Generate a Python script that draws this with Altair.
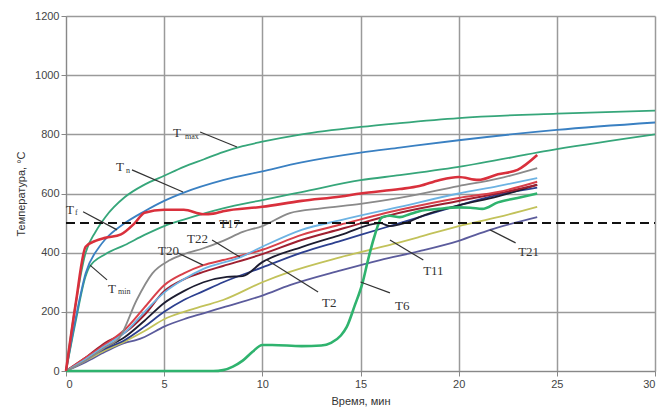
import altair as alt
import pandas as pd

# ---- data ----
t_max = [0, 0.5, 1, 1.5, 2, 3, 4, 5, 6, 7, 8, 9, 10, 12, 15, 17, 20, 25, 30]
v_max = [0, 230, 400, 470, 520, 588, 630, 660, 690, 715, 740, 760, 775, 800, 825, 838, 855, 870, 880]

t_n = [0, 0.5, 1, 1.7, 2, 3, 4, 5, 6, 8, 10, 12, 15, 17, 20, 25, 30]
v_n = [0, 180, 330, 420, 445, 500, 540, 575, 603, 645, 675, 705, 738, 755, 780, 815, 840]

t_min = [0, 0.5, 1, 1.2, 2, 3, 4, 5, 6, 8, 10, 12, 15, 17, 20, 25, 30]
v_min = [0, 170, 320, 352, 395, 426, 460, 490, 512, 550, 578, 605, 645, 662, 690, 750, 800]

t_f = [0, 0.5, 1, 1.5, 2, 2.8, 3.5, 4, 5, 6, 7, 7.5, 8, 10, 12, 14, 15, 17, 18, 19, 20, 21, 22, 23, 24]
v_f = [0, 230, 420, 440, 450, 462, 500, 535, 545, 545, 530, 532, 540, 555, 575, 590, 600, 615, 625, 645, 656, 646, 665, 680, 730]

t_gray = [0, 1, 2, 2.75, 3.6, 4.4, 5.3, 6, 7, 8, 9, 10, 11.4, 13, 15, 17, 20, 22, 24]
v_gray = [0, 35, 80, 115, 240, 330, 375, 395, 415, 440, 470, 490, 534, 550, 565, 585, 625, 650, 686]

t_22 = [0, 1, 2, 3, 4, 5, 6, 7, 8.9, 10, 12, 14, 17, 20, 22, 24]
v_22 = [0, 40, 85, 130, 200, 265, 310, 345, 385, 420, 477, 510, 555, 600, 625, 652]

t_20 = [0, 1, 2, 3, 4, 5, 6, 7, 8, 10, 12, 14, 17, 20, 22, 24]
v_20 = [0, 45, 90, 140, 215, 290, 330, 358, 375, 410, 460, 495, 545, 585, 605, 640]

t_dred = [0, 1, 2, 3, 4, 5, 6, 7, 8, 10, 12, 14, 17, 20, 22, 24]
v_dred = [0, 45, 95, 130, 190, 270, 310, 335, 355, 395, 443, 480, 535, 575, 600, 629]

t_2 = [0, 1, 2, 3, 4, 5, 6, 7, 8.2, 9, 10, 12, 14, 16, 16.5, 17, 17.5, 18, 20, 22, 24]
v_2 = [0, 40, 80, 115, 170, 230, 270, 300, 318, 321, 368, 419, 460, 500, 490, 496, 505, 520, 560, 590, 630]

t_dblue = [0, 1, 2, 3, 4, 5, 6, 7, 8, 10, 12, 14, 16, 18, 20, 22, 24]
v_dblue = [0, 40, 75, 105, 150, 200, 240, 270, 300, 350, 400, 440, 480, 520, 560, 595, 620]

t_olive = [0, 1, 2, 3, 4, 5, 6, 7, 8, 10, 11.4, 14, 17, 18, 20, 22, 24]
v_olive = [0, 35, 70, 100, 135, 175, 200, 220, 240, 300, 335, 385, 435, 453, 490, 520, 555]

t_21 = [0, 1, 2, 3, 3.6, 4, 5, 6, 7, 8, 10, 11.4, 14, 16, 18, 20, 21.6, 24]
v_21 = [0, 30, 65, 95, 105, 115, 150, 175, 195, 215, 255, 290, 340, 375, 405, 440, 477, 520]

t_6 = [0, 7.5, 8, 8.5, 9, 9.5, 10, 10.5, 12, 13, 13.5, 14, 14.3, 14.7, 15.1, 15.4, 15.7, 16.1, 16.5, 17, 17.5, 18, 19, 20, 20.6, 21.2, 22, 23, 24]
v_6 = [0, 0, 3, 15, 35, 65, 88, 88, 84, 86, 95, 120, 149, 220, 297, 380, 453, 520, 525, 520, 530, 540, 548, 553, 552, 548, 570, 585, 600]

series = [
    ("navy", t_21, v_21, "#5b5b9c", 1.8),
    ("olive", t_olive, v_olive, "#c2c25a", 1.8),
    ("dblue", t_dblue, v_dblue, "#2c3f8f", 1.8),
    ("black", t_2, v_2, "#1c1c30", 1.8),
    ("dred", t_dred, v_dred, "#9e1f30", 2.0),
    ("red20", t_20, v_20, "#d8404a", 2.0),
    ("lblue", t_22, v_22, "#6db3e3", 1.8),
    ("gray", t_gray, v_gray, "#8a8a8a", 1.8),
    ("Tmin", t_min, v_min, "#36a67a", 1.8),
    ("Tn", t_n, v_n, "#3a80c2", 1.8),
    ("Tmax", t_max, v_max, "#36a67a", 1.8),
    ("T6", t_6, v_6, "#2fb36e", 2.6),
    ("Tf", t_f, v_f, "#d9303c", 2.6),
]

rows = []
for i, (name, ts, vs, col, w) in enumerate(series):
    for t, v in zip(ts, vs):
        rows.append({"s": name, "t": t, "v": v, "o": i})
df = pd.DataFrame(rows)

x_scale = alt.Scale(domain=[0, 30], nice=False)
y_scale = alt.Scale(domain=[0, 1200], nice=False)

X = alt.X("t:Q", scale=x_scale,
          axis=alt.Axis(values=[0, 5, 10, 15, 20, 25, 30], title="Время, мин", format="d",
                        grid=True, gridColor="#9a9a9a", gridWidth=1.5,
                        titleFontSize=11, titleFontWeight="normal", titleColor="#333",
                        labelFontSize=11, labelColor="#444", tickColor="#888",
                        domainColor="#888", titlePadding=6))
Y = alt.Y("v:Q", scale=y_scale,
          axis=alt.Axis(values=[0, 200, 400, 600, 800, 1000, 1200], title="Температура, °С", format="d",
                        grid=True, gridColor="#9a9a9a", gridWidth=1.5,
                        titleFontSize=11, titleFontWeight="normal", titleColor="#333",
                        labelFontSize=11, labelColor="#444", tickColor="#888",
                        domainColor="#888", titlePadding=8))

layers = []
for i, (name, ts, vs, col, w) in enumerate(series):
    sub = df[df.s == name]
    layers.append(
        alt.Chart(sub).mark_line(color=col, strokeWidth=w, interpolate="monotone")
        .encode(x=X if i == 0 else alt.X("t:Q", scale=x_scale),
                y=Y if i == 0 else alt.Y("v:Q", scale=y_scale),
                order="t:Q")
    )

# dashed 500 line
lim_t = [0, 30]
lim_v = [500, 500]
dash = alt.Chart(pd.DataFrame({"t": lim_t, "v": lim_v})).mark_line(
    color="#111", strokeWidth=2, strokeDash=[9, 5]
).encode(x=alt.X("t:Q", scale=x_scale), y=alt.Y("v:Q", scale=y_scale))

# leader lines
lead_x1 = [0.87, 3.36, 6.83, 2.09, 7.44, 5.7, 12.84, 16.5, 18.2, 22.9]
lead_y1 = [538, 680, 808, 308, 443, 399, 267, 264, 375, 433]
lead_x2 = [2.6, 5.96, 8.71, 1.22, 8.86, 6.98, 10.24, 15.0, 16.5, 21.6]
lead_y2 = [477, 605, 757, 358, 385, 358, 375, 301, 443, 477]
leads = alt.Chart(pd.DataFrame({"x1": lead_x1, "y1": lead_y1, "x2": lead_x2, "y2": lead_y2})).mark_rule(
    color="#333", strokeWidth=1.2
).encode(x=alt.X("x1:Q", scale=x_scale), y=alt.Y("y1:Q", scale=y_scale), x2="x2:Q", y2="y2:Q")

# main label texts
lab_text = ["T", "T", "T", "T", "T17", "T22", "T20", "T2", "T6", "T11", "T21"]
lab_t = [5.45, 2.55, 0.0, 2.14, 7.8, 6.16, 4.69, 13.04, 16.76, 18.19, 23.03]
lab_v = [805, 690, 544, 277, 497, 446, 406, 230, 220, 338, 402]
labels = alt.Chart(pd.DataFrame({"t": lab_t, "v": lab_v, "txt": lab_text})).mark_text(
    align="left", baseline="middle", font="Liberation Serif", fontSize=13, color="#333"
).encode(x=alt.X("t:Q", scale=x_scale), y=alt.Y("v:Q", scale=y_scale), text="txt:N")

sub_text = ["max", "n", "f", "min"]
sub_t = [6.06, 3.06, 0.46, 2.65]
sub_v = [791, 676, 534, 267]
subs = alt.Chart(pd.DataFrame({"t": sub_t, "v": sub_v, "txt": sub_text})).mark_text(
    align="left", baseline="middle", font="Liberation Serif", fontSize=8, color="#333"
).encode(x=alt.X("t:Q", scale=x_scale), y=alt.Y("v:Q", scale=y_scale), text="txt:N")

chart = alt.layer(*layers, dash, leads, labels, subs).properties(
    width=589, height=355,
    autosize=alt.AutoSizeParams(type="none"),
    padding={"left": 66, "top": 16, "right": 2, "bottom": 41},
).configure_view(stroke=None).configure_axis(labelFont="Liberation Sans", titleFont="Liberation Sans")

chart.save("out.html", embed_options={"renderer": "svg", "actions": False})
